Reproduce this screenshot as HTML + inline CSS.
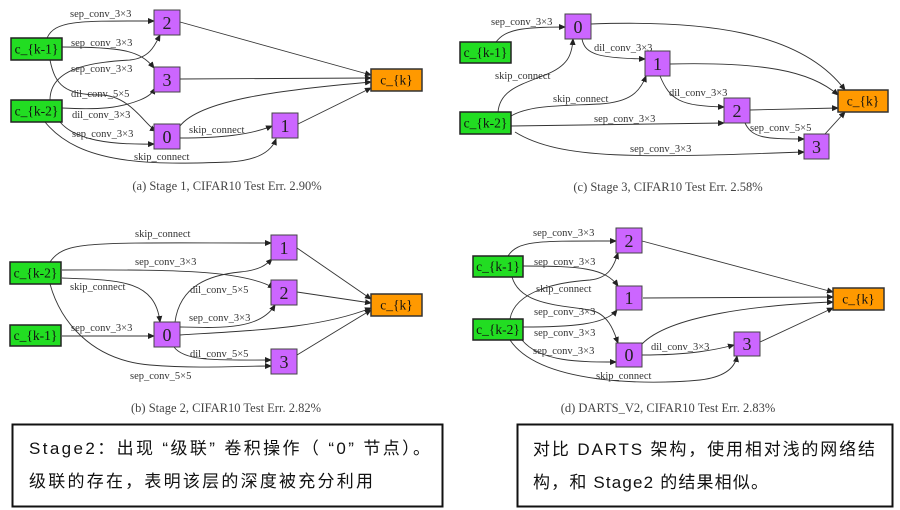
<!DOCTYPE html>
<html><head><meta charset="utf-8"><style>
html,body{margin:0;padding:0;background:#fff;width:900px;height:510px;overflow:hidden}
svg{display:block}
.g{fill:#22dd22;stroke:#222;stroke-width:1.5}
.p{fill:#cc66ff;stroke:#444;stroke-width:1}
.o{fill:#ff9900;stroke:#333;stroke-width:1.5}
.e{fill:none;stroke:#333;stroke-width:0.9;marker-end:url(#a)}
.l{font-family:"Liberation Serif",serif;font-size:10.5px;fill:#333}
.n{font-family:"Liberation Serif",serif;font-size:13.5px;fill:#111;text-anchor:middle}
.d{font-family:"Liberation Serif",serif;font-size:18px;fill:#222;text-anchor:middle}
.c{font-family:"Liberation Serif",serif;font-size:12.5px;fill:#444;text-anchor:middle}
.t{font-family:"Liberation Sans","Noto Sans CJK SC",sans-serif;font-size:17px;fill:#111}
</style></head><body>
<svg width="900" height="510" viewBox="0 0 900 510" xmlns="http://www.w3.org/2000/svg">
<defs><marker id="a" markerWidth="7" markerHeight="6" refX="6" refY="3" orient="auto" markerUnits="userSpaceOnUse"><path d="M0,0 L7,3 L0,6 z" fill="#222"/></marker></defs>

<!-- Panel a -->
<path class="e" d="M47,38 C55,20 80,21 154,21"/>
<path class="e" d="M62,47 C120,47 140,50 154,68"/>
<path class="e" d="M50,100 C50,65 100,62 130,60 C150,58 155,45 160,35"/>
<path class="e" d="M50,60 C55,85 65,95 100,95 C130,95 145,125 156,131"/>
<path class="e" d="M62,108 C100,110 120,108 140,100 C150,96 153,92 155,88"/>
<path class="e" d="M60,122 C75,140 110,145 154,144"/>
<path class="e" d="M45,122 C80,165 150,165 230,162 C260,160 272,150 276,139"/>
<path class="e" d="M180,138 C220,138 250,135 272,126"/>
<path class="e" d="M180,22 L371,75"/>
<path class="e" d="M180,79 L371,78"/>
<path class="e" d="M180,126 C200,100 280,90 371,82"/>
<path class="e" d="M298,124 L371,88"/>
<text class="l" x="70" y="17">sep_conv_3×3</text>
<text class="l" x="71" y="46">sep_conv_3×3</text>
<text class="l" x="71" y="72">sep_conv_3×3</text>
<text class="l" x="71" y="97">dil_conv_5×5</text>
<text class="l" x="72" y="118">dil_conv_3×3</text>
<text class="l" x="72" y="137">sep_conv_3×3</text>
<text class="l" x="189" y="133">skip_connect</text>
<text class="l" x="134" y="160">skip_connect</text>
<rect class="g" x="11" y="38" width="51" height="22"/><text class="n" x="36.5" y="53.5">c_{k-1}</text>
<rect class="g" x="11" y="100" width="51" height="22"/><text class="n" x="36.5" y="115.5">c_{k-2}</text>
<rect class="p" x="154" y="10" width="26" height="25"/><text class="d" x="167" y="29">2</text>
<rect class="p" x="154" y="67" width="26" height="25"/><text class="d" x="167" y="86">3</text>
<rect class="p" x="154" y="124" width="26" height="25"/><text class="d" x="167" y="143">0</text>
<rect class="p" x="272" y="113" width="26" height="25"/><text class="d" x="285" y="132">1</text>
<rect class="o" x="371" y="69" width="51" height="22"/><text class="n" x="396.5" y="84.5">c_{k}</text>
<text class="c" x="227" y="190">(a) Stage 1, CIFAR10 Test Err. 2.90%</text>

<!-- Panel c -->
<path class="e" d="M496,42 C505,30 520,27 565,27"/>
<path class="e" d="M498,112 C500,90 520,85 545,75 C568,66 572,55 573,39"/>
<path class="e" d="M582,39 C585,55 600,58 645,59"/>
<path class="e" d="M511,116 C530,105 560,106 600,104 C630,102 640,92 646,76"/>
<path class="e" d="M511,126 L724,123"/>
<path class="e" d="M660,76 C670,100 680,106 724,107"/>
<path class="e" d="M515,132 C560,160 640,158 804,152"/>
<path class="e" d="M745,123 C752,138 765,139 804,139"/>
<path class="e" d="M591,24 C700,20 800,30 845,90"/>
<path class="e" d="M670,64 C760,62 810,70 838,95"/>
<path class="e" d="M750,110 L838,108"/>
<path class="e" d="M825,134 L845,112"/>
<text class="l" x="491" y="25">sep_conv_3×3</text>
<text class="l" x="594" y="51">dil_conv_3×3</text>
<text class="l" x="495" y="79">skip_connect</text>
<text class="l" x="553" y="102">skip_connect</text>
<text class="l" x="594" y="122">sep_conv_3×3</text>
<text class="l" x="669" y="96">dil_conv_3×3</text>
<text class="l" x="750" y="131">sep_conv_5×5</text>
<text class="l" x="630" y="152">sep_conv_3×3</text>
<rect class="g" x="460" y="42" width="51" height="21"/><text class="n" x="485.5" y="57">c_{k-1}</text>
<rect class="g" x="460" y="112" width="51" height="22"/><text class="n" x="485.5" y="127.5">c_{k-2}</text>
<rect class="p" x="565" y="14" width="26" height="25"/><text class="d" x="578" y="33">0</text>
<rect class="p" x="645" y="51" width="25" height="25"/><text class="d" x="657.5" y="70">1</text>
<rect class="p" x="724" y="98" width="26" height="25"/><text class="d" x="737" y="117">2</text>
<rect class="p" x="804" y="134" width="25" height="25"/><text class="d" x="816.5" y="153">3</text>
<rect class="o" x="838" y="90" width="50" height="22"/><text class="n" x="863" y="105.5">c_{k}</text>
<text class="c" x="668" y="191">(c) Stage 3, CIFAR10 Test Err. 2.58%</text>

<!-- Panel b -->
<path class="e" d="M50,262 C65,240 90,243 271,243"/>
<path class="e" d="M62,270 C150,270 240,268 274,288"/>
<path class="e" d="M62,278 C120,280 155,280 160,322"/>
<path class="e" d="M62,336 L154,336"/>
<path class="e" d="M50,284 C60,320 90,360 150,365 C200,369 240,366 271,366"/>
<path class="e" d="M175,322 C180,285 210,275 240,272 C260,270 266,265 272,259"/>
<path class="e" d="M180,327 C220,328 260,330 275,305"/>
<path class="e" d="M174,347 C185,362 220,360 271,360"/>
<path class="e" d="M180,335 C260,330 320,328 371,308"/>
<path class="e" d="M297,248 L371,299"/>
<path class="e" d="M297,292 L371,303"/>
<path class="e" d="M297,355 L371,310"/>
<text class="l" x="135" y="237">skip_connect</text>
<text class="l" x="135" y="265">sep_conv_3×3</text>
<text class="l" x="70" y="290">skip_connect</text>
<text class="l" x="71" y="331">sep_conv_3×3</text>
<text class="l" x="190" y="293">dil_conv_5×5</text>
<text class="l" x="189" y="321">sep_conv_3×3</text>
<text class="l" x="190" y="357">dil_conv_5×5</text>
<text class="l" x="130" y="379">sep_conv_5×5</text>
<rect class="g" x="10" y="262" width="51" height="22"/><text class="n" x="35.5" y="277.5">c_{k-2}</text>
<rect class="g" x="10" y="325" width="51" height="21"/><text class="n" x="35.5" y="340">c_{k-1}</text>
<rect class="p" x="271" y="235" width="26" height="25"/><text class="d" x="284" y="254">1</text>
<rect class="p" x="271" y="280" width="26" height="25"/><text class="d" x="284" y="299">2</text>
<rect class="p" x="154" y="322" width="26" height="25"/><text class="d" x="167" y="341">0</text>
<rect class="p" x="271" y="349" width="26" height="25"/><text class="d" x="284" y="368">3</text>
<rect class="o" x="371" y="294" width="51" height="22"/><text class="n" x="396.5" y="309.5">c_{k}</text>
<text class="c" x="226" y="412">(b) Stage 2, CIFAR10 Test Err. 2.82%</text>

<!-- Panel d -->
<path class="e" d="M508,256 C518,240 540,241 616,241"/>
<path class="e" d="M523,266 C580,266 605,268 618,286"/>
<path class="e" d="M510,319 C515,290 560,282 590,280 C610,278 614,265 618,253"/>
<path class="e" d="M512,277 C520,305 560,305 590,310 C610,314 615,335 618,343"/>
<path class="e" d="M523,327 C570,327 605,325 617,310"/>
<path class="e" d="M522,340 C540,362 580,362 616,362"/>
<path class="e" d="M510,340 C540,385 650,385 700,380 C725,377 735,368 737,356"/>
<path class="e" d="M642,355 C690,355 715,350 734,345"/>
<path class="e" d="M642,241 L833,292"/>
<path class="e" d="M643,298 L833,297"/>
<path class="e" d="M642,344 C670,315 760,305 833,302"/>
<path class="e" d="M760,342 L833,308"/>
<text class="l" x="533" y="236">sep_conv_3×3</text>
<text class="l" x="534" y="265">sep_conv_3×3</text>
<text class="l" x="536" y="292">skip_connect</text>
<text class="l" x="534" y="315">sep_conv_3×3</text>
<text class="l" x="534" y="336">sep_conv_3×3</text>
<text class="l" x="533" y="354">sep_conv_3×3</text>
<text class="l" x="651" y="350">dil_conv_3×3</text>
<text class="l" x="596" y="379">skip_connect</text>
<rect class="g" x="473" y="256" width="50" height="21"/><text class="n" x="498" y="271">c_{k-1}</text>
<rect class="g" x="473" y="319" width="50" height="21"/><text class="n" x="498" y="334">c_{k-2}</text>
<rect class="p" x="616" y="228" width="26" height="25"/><text class="d" x="629" y="247">2</text>
<rect class="p" x="616" y="286" width="26" height="24"/><text class="d" x="629" y="304">1</text>
<rect class="p" x="616" y="343" width="26" height="24"/><text class="d" x="629" y="361">0</text>
<rect class="p" x="734" y="332" width="26" height="24"/><text class="d" x="747" y="350">3</text>
<rect class="o" x="833" y="288" width="51" height="22"/><text class="n" x="858.5" y="303.5">c_{k}</text>
<text class="c" x="668" y="412">(d) DARTS_V2, CIFAR10 Test Err. 2.83%</text>

<!-- text boxes -->
<rect x="12.5" y="424.5" width="430" height="82" fill="none" stroke="#111" stroke-width="2"/>
<text class="t" x="29" y="454" textLength="401" lengthAdjust="spacing">Stage2：出现 “级联” 卷积操作（ “0” 节点）。</text>
<text class="t" x="29" y="487" textLength="344" lengthAdjust="spacing">级联的存在，表明该层的深度被充分利用</text>
<rect x="517.5" y="424.5" width="375" height="82" fill="none" stroke="#111" stroke-width="2"/>
<text class="t" x="533" y="455" textLength="342" lengthAdjust="spacing">对比 DARTS 架构，使用相对浅的网络结</text>
<text class="t" x="533" y="488" textLength="235" lengthAdjust="spacing">构，和 Stage2 的结果相似。</text>
</svg>
</body></html>
